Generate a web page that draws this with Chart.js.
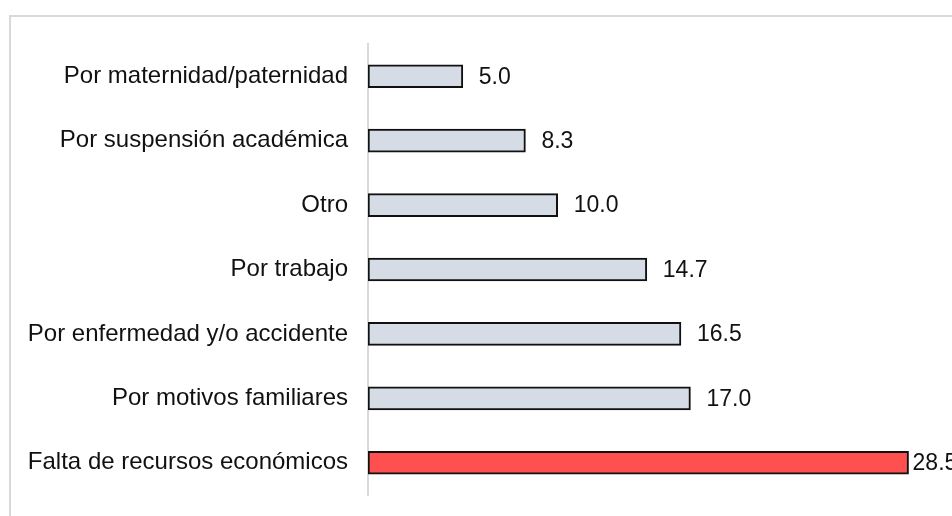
<!DOCTYPE html>
<html>
<head>
<meta charset="utf-8">
<script src="https://cdn.jsdelivr.net/npm/chart.js@4"></script>
<style>
  html, body { margin: 0; padding: 0; background: #fff; }
  #wrap { width: 952px; height: 516px; position: relative; }
</style>
</head>
<body>
<div id="wrap"><canvas id="chart"></canvas></div>
<script>
const categories = [
  "Por maternidad/paternidad",
  "Por suspensión académica",
  "Otro",
  "Por trabajo",
  "Por enfermedad y/o accidente",
  "Por motivos familiares",
  "Falta de recursos económicos",
];
const values = [5.0, 8.3, 10.0, 14.7, 16.5, 17.0, 28.5];
const highlight = [false, false, false, false, false, false, true];

const FONT = "'Liberation Sans', Arial, sans-serif";

// light frame around the whole chart (runs off the right/bottom edge)
const framePlugin = {
  id: "frame",
  beforeDraw(chart) {
    const ctx = chart.ctx;
    ctx.save();
    ctx.strokeStyle = "#d9d9d9";
    ctx.lineWidth = 2;
    ctx.strokeRect(10, 16, 2000, 2000);
    ctx.restore();
  },
};

// value labels to the right of each bar
const valueLabels = {
  id: "valueLabels",
  afterDatasetsDraw(chart) {
    const ctx = chart.ctx;
    const meta = chart.getDatasetMeta(0);
    ctx.save();
    ctx.font = "23px " + FONT;
    ctx.fillStyle = "#111";
    ctx.textBaseline = "middle";
    ctx.textAlign = "left";
    meta.data.forEach((bar, i) => {
      const gap = highlight[i] ? 4 : 16;
      ctx.fillText(values[i].toFixed(1), bar.x + gap, bar.y + 1);
    });
    ctx.restore();
  },
};

new Chart(document.getElementById("chart"), {
  type: "bar",
  plugins: [framePlugin, valueLabels],
  data: {
    labels: categories,
    datasets: [{
      data: values,
      backgroundColor: highlight.map(h => (h ? "#ff5050" : "#d6dce5")),
      borderColor: "#111",
      borderWidth: 2,
      borderSkipped: false,
      barThickness: 23,
    }],
  },
  options: {
    indexAxis: "y",
    responsive: true,
    maintainAspectRatio: false,
    animation: false,
    layout: { padding: { top: 44, bottom: 21, left: 0, right: 15 } },
    plugins: { legend: { display: false }, tooltip: { enabled: false } },
    scales: {
      x: {
        display: false,
        min: 0,
        max: 30,
      },
      y: {
        afterFit(axis) {
          axis.width = 368;
          axis.paddingTop = 0;
          axis.paddingBottom = 0;
        },
        grid: { drawOnChartArea: false, drawTicks: false },
        border: { display: true, color: "#d9d9d9", width: 2 },
        ticks: {
          padding: 20,
          color: "#111",
          font: { family: FONT, size: 24 },
        },
      },
    },
  },
});
</script>
</body>
</html>
